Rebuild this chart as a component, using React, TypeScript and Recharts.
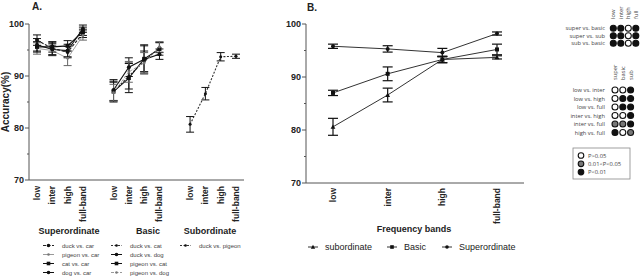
import React from 'react';
import { ComposedChart, LineChart, Line, XAxis, YAxis, ErrorBar } from 'recharts';

const FONT = '"Liberation Sans", Arial, sans-serif';
const SMALL = '"Open Sans", "Liberation Sans", sans-serif';

// panel A
const bandsA = ['low', 'inter', 'high', 'full-band'];
const groupsA = ['Superordinate', 'Basic', 'Subordinate'];

const duckCar = [96.9, 95.3, 94.6, 98.2];
const duckCarErr = [1.0, 1.2, 1.1, 0.8];
const pigeonCar = [95.3, 94.9, 93.4, 97.8];
const pigeonCarErr = [1.1, 1.0, 1.4, 0.9];
const catCar = [95.6, 95.6, 95.8, 98.6];
const catCarErr = [1.0, 1.0, 1.0, 0.8];
const dogCar = [96.0, 95.1, 94.9, 99.1];
const dogCarErr = [1.2, 1.1, 1.2, 0.7];

const duckCat = [87.0, 90.0, 92.8, 95.5];
const duckCatErr = [1.8, 2.5, 2.0, 1.0];
const duckDog = [87.3, 91.7, 93.2, 94.2];
const duckDogErr = [2.0, 1.8, 2.8, 1.0];
const pigeonCat = [87.0, 89.6, 93.3, 95.2];
const pigeonCatErr = [2.0, 2.8, 2.5, 1.2];
const pigeonDog = [86.8, 90.8, 92.5, 95.6];
const pigeonDogErr = [1.6, 2.0, 2.0, 1.0];

const duckPigeon = [80.7, 86.6, 93.7, 93.8];
const duckPigeonErr = [1.5, 1.2, 0.8, 0.4];

// panel B
const bandsB = ['low', 'inter', 'high', 'full-band'];
const subordinate = [80.6, 86.6, 93.3, 93.7];
const subordinateErr = [1.6, 1.3, 0.6, 0.3];
const basic = [87.0, 90.6, 93.3, 95.2];
const basicErr = [0.5, 1.3, 0.6, 1.0];
const superordinate = [95.8, 95.3, 94.6, 98.2];
const superordinateErr = [0.4, 0.6, 0.8, 0.3];

// significance tables: 0 = P>0.05, 1 = 0.01<P<0.05, 2 = P<0.01
const pairs1 = ['super vs. basic', 'super vs. sub', 'sub vs. basic'];
const heads1 = ['low', 'inter', 'high', 'full'];
const sig1 = [
  [2, 2, 0, 2],
  [2, 2, 0, 2],
  [2, 2, 0, 2],
];
const pairs2 = ['low vs. inter', 'low vs. high', 'low vs. full', 'inter vs. high', 'inter vs. full', 'high vs. full'];
const heads2 = ['super', 'basic', 'sub'];
const sig2 = [
  [0, 0, 2],
  [0, 2, 2],
  [0, 2, 2],
  [0, 0, 2],
  [1, 1, 2],
  [2, 0, 1],
];
const sigLabels = ['P>0.05', '0.01<P<0.05', 'P<0.01'];

type Shape = 'circle' | 'square' | 'triangle' | 'small';

interface SeriesA {
  key: string;
  name: string;
  group: number;
  values: number[];
  err: number[];
  stroke: string;
  dash?: string;
  shape: Shape;
  size: number;
}

const seriesA: SeriesA[] = [
  { key: 'duckCar', name: 'duck vs. car', group: 0, values: duckCar, err: duckCarErr, stroke: '#222', dash: '3 1.5', shape: 'circle', size: 2 },
  { key: 'pigeonCar', name: 'pigeon vs. car', group: 0, values: pigeonCar, err: pigeonCarErr, stroke: '#999', shape: 'small', size: 1.4 },
  { key: 'catCar', name: 'cat vs. car', group: 0, values: catCar, err: catCarErr, stroke: '#111', shape: 'square', size: 2 },
  { key: 'dogCar', name: 'dog vs. car', group: 0, values: dogCar, err: dogCarErr, stroke: '#111', shape: 'circle', size: 2 },
  { key: 'duckCat', name: 'duck vs. cat', group: 1, values: duckCat, err: duckCatErr, stroke: '#333', dash: '2 1.5', shape: 'small', size: 1.5 },
  { key: 'duckDog', name: 'duck vs. dog', group: 1, values: duckDog, err: duckDogErr, stroke: '#111', shape: 'circle', size: 2 },
  { key: 'pigeonCat', name: 'pigeon vs. cat', group: 1, values: pigeonCat, err: pigeonCatErr, stroke: '#111', shape: 'square', size: 2 },
  { key: 'pigeonDog', name: 'pigeon vs. dog', group: 1, values: pigeonDog, err: pigeonDogErr, stroke: '#999', dash: '3 1.5', shape: 'small', size: 1.4 },
  { key: 'duckPigeon', name: 'duck vs. pigeon', group: 2, values: duckPigeon, err: duckPigeonErr, stroke: '#333', dash: '2 1.5', shape: 'small', size: 1.5 },
];

const labelsA: string[] = [];
const rowsA: any[] = [];
groupsA.forEach((_, g) => {
  bandsA.forEach((b, i) => {
    const row: any = { slot: rowsA.length };
    seriesA.filter((s) => s.group === g).forEach((s) => {
      row[s.key] = s.values[i];
      row[s.key + 'Err'] = s.err[i];
    });
    labelsA.push(b);
    rowsA.push(row);
  });
  if (g < groupsA.length - 1) {
    labelsA.push('');
    rowsA.push({ slot: rowsA.length });
  }
});

const seriesB = [
  { key: 'subordinate', name: 'subordinate', values: subordinate, err: subordinateErr, shape: 'triangle' as Shape },
  { key: 'basic', name: 'Basic', values: basic, err: basicErr, shape: 'square' as Shape },
  { key: 'superordinate', name: 'Superordinate', values: superordinate, err: superordinateErr, shape: 'circle' as Shape },
];
const rowsB = bandsB.map((b, i) => {
  const row: any = { band: b };
  seriesB.forEach((s) => {
    row[s.key] = s.values[i];
    row[s.key + 'Err'] = s.err[i];
  });
  return row;
});

function drawMarker(shape: Shape, cx: number, cy: number, size: number, fill: string, key?: string) {
  if (shape === 'square') {
    return <rect key={key} x={cx - size} y={cy - size} width={size * 2} height={size * 2} fill={fill} />;
  }
  if (shape === 'triangle') {
    const s = size * 1.2;
    return <polygon key={key} points={`${cx},${cy - s} ${cx - s},${cy + s * 0.8} ${cx + s},${cy + s * 0.8}`} fill={fill} />;
  }
  return <circle key={key} cx={cx} cy={cy} r={size} fill={fill} />;
}

const dotFn = (shape: Shape, size: number, fill: string) => (p: any) => {
  const { cx, cy, value, index } = p;
  if (value == null || cy == null || isNaN(cy)) return <g key={`e-${index}`} />;
  return drawMarker(shape, cx, cy, size, fill, `d-${index}`);
};

const YTick = (p: any) => {
  const { x, y, payload } = p;
  const major = payload.value % 10 === 0;
  return (
    <g>
      <line x1={x - (major ? 4 : 2)} x2={x} y1={y} y2={y} stroke="#555" />
      {major && (
        <text x={x - 5} y={y} textAnchor="end" dominantBaseline="central" fontSize={9} fontWeight="bold" fontFamily={FONT} fill="#222">
          {payload.value}
        </text>
      )}
    </g>
  );
};

const XTickA = (p: any) => {
  const { x, y, payload } = p;
  const label = labelsA[payload.value];
  if (!label) return <g />;
  return (
    <text transform={`translate(${x},${y + 6}) rotate(-90)`} textAnchor="end" dominantBaseline="central" fontSize={8.5} fontWeight="bold" fontFamily={FONT} fill="#222">
      {label}
    </text>
  );
};

const XTickB = (p: any) => {
  const { x, y, payload } = p;
  return (
    <text transform={`translate(${x},${y + 5}) rotate(-90)`} textAnchor="end" dominantBaseline="central" fontSize={8.5} fontWeight="bold" fontFamily={FONT} fill="#222">
      {payload.value}
    </text>
  );
};

const yTicks = [70, 75, 80, 85, 90, 95, 100];
const sigFill = ['#fff', '#777', '#111'];

export default function App() {
  const legendColX = [43, 111, 180];
  const legendCountByGroup = [0, 0, 0];
  return (
    <div style={{ position: 'absolute', left: 0, top: 0, width: 640, height: 278, background: '#fff', overflow: 'hidden' }}>
      <div style={{ position: 'absolute', left: 0, top: 0 }}>
        <ComposedChart width={250} height={278} data={rowsA} margin={{ top: 24, right: 6, left: 0, bottom: 0 }}>
          <XAxis dataKey="slot" type="category" height={98} padding={{ left: 8, right: 8 }} tickLine={false} tickSize={0} tickMargin={0} axisLine={{ stroke: '#555' }} tick={<XTickA />} interval={0} />
          <YAxis domain={[70, 100]} ticks={yTicks} width={29} tickLine={false} tickSize={0} tickMargin={0} axisLine={{ stroke: '#555' }} tick={<YTick />} interval={0} />
          {seriesA.map((s) => (
            <Line
              key={s.key}
              dataKey={s.key}
              type="linear"
              stroke={s.stroke}
              strokeWidth={s.stroke === '#999' ? 0.9 : 1.1}
              strokeDasharray={s.dash}
              dot={dotFn(s.shape, s.size, s.stroke === '#999' ? '#777' : '#111')}
              activeDot={false}
              isAnimationActive={false}
            >
              <ErrorBar dataKey={s.key + 'Err'} width={4} strokeWidth={1} stroke={s.stroke === '#999' ? '#666' : '#111'} direction="y" />
            </Line>
          ))}
        </ComposedChart>
      </div>
      <div style={{ position: 'absolute', left: 270, top: 0 }}>
        <LineChart width={260} height={278} data={rowsB} margin={{ top: 24, right: 6, left: 0, bottom: 0 }}>
          <XAxis dataKey="band" height={95} padding={{ left: 27, right: 27 }} tickLine={false} tickSize={0} tickMargin={0} axisLine={{ stroke: '#555' }} tick={<XTickB />} interval={0} />
          <YAxis domain={[70, 100]} ticks={yTicks} width={36} tickLine={false} tickSize={0} tickMargin={0} axisLine={{ stroke: '#555' }} tick={<YTick />} interval={0} />
          {seriesB.map((s) => (
            <Line
              key={s.key}
              dataKey={s.key}
              type="linear"
              stroke="#333"
              strokeWidth={1}
              dot={dotFn(s.shape, 2, '#111')}
              activeDot={false}
              isAnimationActive={false}
            >
              <ErrorBar dataKey={s.key + 'Err'} width={5} strokeWidth={1.2} stroke="#111" direction="y" />
            </Line>
          ))}
        </LineChart>
      </div>
      <svg width={640} height={278} style={{ position: 'absolute', left: 0, top: 0, pointerEvents: 'none' }} fontFamily={FONT}>
        <text x={32} y={10} fontSize={10} fontWeight="bold" fill="#222">A.</text>
        <text x={307} y={11} fontSize={10} fontWeight="bold" fill="#222">B.</text>
        <text transform="translate(9,102) rotate(-90)" textAnchor="middle" fontSize={10} fontWeight="bold" fill="#222">Accuracy(%)</text>

        {groupsA.map((g, i) => (
          <text key={g} x={[69, 148, 210][i]} y={234} textAnchor="middle" fontSize={9} fontWeight="bold" fill="#222">{g}</text>
        ))}
        {seriesA.map((s) => {
          const row = legendCountByGroup[s.group]++;
          const x0 = legendColX[s.group];
          const y = 245.5 + row * 9;
          const fill = s.stroke === '#999' ? '#777' : '#111';
          return (
            <g key={s.key}>
              <line x1={x0} x2={x0 + 11} y1={y} y2={y} stroke={s.stroke} strokeWidth={1} strokeDasharray={s.dash} />
              {drawMarker(s.shape, x0 + 5.5, y, s.size * 0.9, fill)}
              <text x={x0 + 19} y={y} dominantBaseline="central" fontSize={6} fill="#444">{s.name}</text>
            </g>
          );
        })}

        <text x={414} y={232} textAnchor="middle" fontSize={9} fontWeight="bold" fill="#222">Frequency bands</text>
        {seriesB.map((s, i) => {
          const x0 = [308, 387, 442][i];
          return (
            <g key={s.key}>
              <line x1={x0} x2={x0 + 10} y1={247} y2={247} stroke="#333" strokeWidth={1} />
              {drawMarker(s.shape, x0 + 5, 247, 1.8, '#111')}
              <text x={x0 + 17} y={247} dominantBaseline="central" fontSize={9} fill="#222">{s.name}</text>
            </g>
          );
        })}

        <g fontFamily={SMALL} fill="#444">
          {heads1.map((h, j) => (
            <text key={h} transform={`translate(${613.3 + j * 7.5},19) rotate(-90)`} dominantBaseline="central" fontSize={5.8}>{h}</text>
          ))}
          {pairs1.map((p, i) => (
            <g key={p}>
              <text x={605} y={28.3 + i * 7.5} textAnchor="end" dominantBaseline="central" fontSize={5.8}>{p}</text>
              {sig1[i].map((v, j) => (
                <circle key={j} cx={613.3 + j * 7.5} cy={28.3 + i * 7.5} r={3} fill={sigFill[v]} stroke="#111" strokeWidth={1.1} />
              ))}
            </g>
          ))}
          {heads2.map((h, j) => (
            <text key={h} transform={`translate(${615 + j * 7.8},80) rotate(-90)`} dominantBaseline="central" fontSize={5.8}>{h}</text>
          ))}
          {pairs2.map((p, i) => (
            <g key={p}>
              <text x={605} y={90 + i * 8.5} textAnchor="end" dominantBaseline="central" fontSize={5.8}>{p}</text>
              {sig2[i].map((v, j) => (
                <circle key={j} cx={615 + j * 7.8} cy={90 + i * 8.5} r={3} fill={sigFill[v]} stroke="#111" strokeWidth={1.1} />
              ))}
            </g>
          ))}
          <rect x={573} y={148} width={57} height={31} fill="none" stroke="#888" strokeWidth={0.8} />
          {sigLabels.map((l, i) => (
            <g key={l}>
              <circle cx={581} cy={155.5 + i * 8.3} r={2.8} fill={sigFill[i]} stroke="#111" strokeWidth={1.1} />
              <text x={588} y={155.5 + i * 8.3} dominantBaseline="central" fontSize={5.8}>{l}</text>
            </g>
          ))}
        </g>
      </svg>
    </div>
  );
}
